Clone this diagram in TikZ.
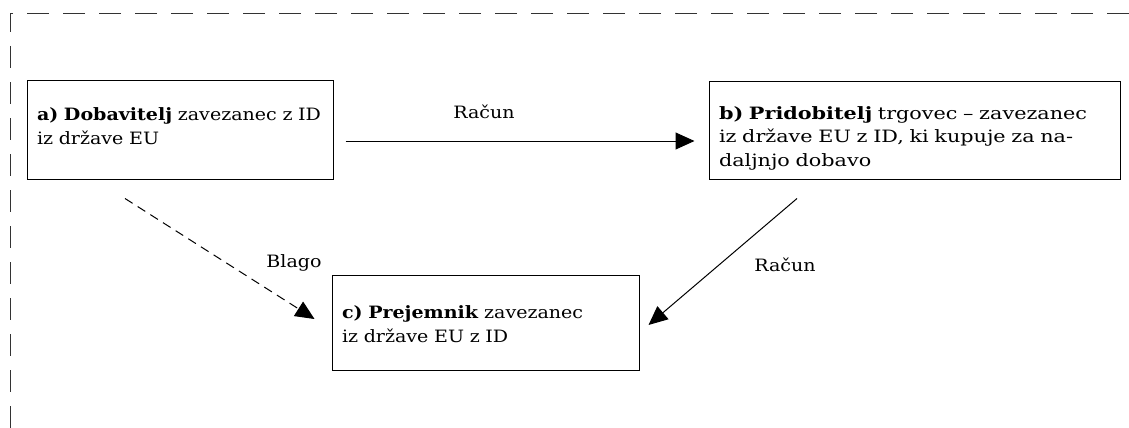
\documentclass[tikz,border=0pt]{standalone}
\usepackage{fontspec}
\setmainfont{DejaVu Serif}[FakeStretch=1.12]
\newfontfamily\widefont{DejaVu Serif}[FakeStretch=1.22]
\usetikzlibrary{arrows.meta}
\begin{document}
\begin{tikzpicture}[x=1pt,y=-1pt,
  every node/.style={font=\fontsize{17}{23.5}\selectfont},
  box/.style={draw, line width=1pt, rectangle, align=left, inner xsep=10pt, inner ysep=0pt},
  lbl/.style={inner sep=0pt},
  arr/.style={line width=1pt, -{Triangle[length=19pt,width=17pt]}},
  frame/.style={line width=0.9pt, dash pattern=on 22pt off 14pt, draw=black!80}]
\useasboundingbox (0,0) rectangle (1129,428);
% outer dashed frame
\coordinate (fr1) at (1129,13);
\coordinate (fr0) at (10,13);
\coordinate (fr2) at (10,428);
\draw[frame] (fr1) -- (fr0) -- (fr2);
% boxes
\node[box, text width=286pt, minimum height=99pt] (a) at (180,129.5)
  {\textbf{a) Dobavitelj} zavezanec z ID\\iz države EU\rule[-7pt]{0pt}{7pt}};
\node[box, text width=391pt, minimum height=98pt, font=\fontsize{17}{23.5}\selectfont\widefont] (b) at (914.5,130)
  {\rule{0pt}{29pt}\textbf{b) Pridobitelj} trgovec – zavezanec\\iz države EU z ID, ki kupuje za na-\\daljnjo dobavo};
\node[box, text width=287pt, minimum height=95pt] (c) at (485.5,322.5)
  {\rule{0pt}{16pt}\textbf{c) Prejemnik} zavezanec\\iz države EU z ID};
% connectors
\draw[arr] ([shift={(12pt,-11.5pt)}]a.east) -- ([shift={(-14pt,-11pt)}]b.west);
\coordinate (ga) at ([shift={(-55pt,-19pt)}]a.south);
\coordinate (gc) at ([shift={(-17pt,3.5pt)}]c.west);
\draw[arr, dashed, dash pattern=on 9pt off 6pt] (ga) -- (gc);
\coordinate (rb) at ([shift={(-117.5pt,-19pt)}]b.south);
\coordinate (rc) at ([shift={(9pt,-2.5pt)}]c.east);
\draw[arr] (rb) -- (rc);
% labels
\node[lbl] (l1) at (484,112) {Račun};
\node[lbl] (l2) at (294,263) {Blago};
\node[lbl] (l3) at (785,265) {Račun};
\end{tikzpicture}
\end{document}
